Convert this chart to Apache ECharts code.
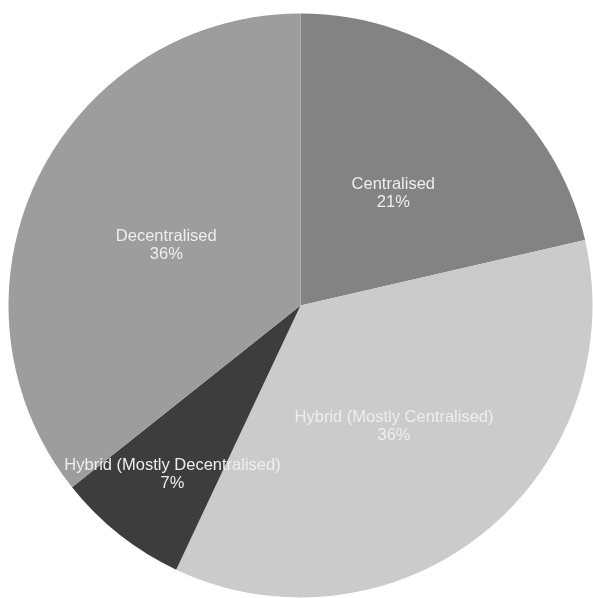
<!DOCTYPE html>
<html>
<head>
<meta charset="utf-8">
<script src="https://cdn.jsdelivr.net/npm/echarts@6/dist/echarts.min.js"></script>
<style>
html,body{margin:0;padding:0;background:#fff;}
#chart{width:593px;height:598px;}
</style>
</head>
<body>
<div id="chart"></div>
<script>
const categories = ['Centralised', 'Hybrid (Mostly Centralised)', 'Hybrid (Mostly Decentralised)', 'Decentralised'];
const values = [21.4, 35.6, 7.3, 35.7];
const colors = ['#838383', '#cbcbcb', '#3d3d3d', '#9d9d9d'];

const cx = 300.5, cy = 305.5, R = 292;
const chart = echarts.init(document.getElementById('chart'), null, {renderer: 'canvas'});
chart.setOption({
  animation: false,
  backgroundColor: '#ffffff',
  series: [{
    type: 'pie',
    center: [cx, cy],
    radius: [0, R],
    startAngle: 90,
    clockwise: true,
    avoidLabelOverlap: false,
    data: categories.map((c, i) => ({name: c, value: values[i], itemStyle: {color: colors[i]}})),
    itemStyle: {borderWidth: 0},
    label: {
      show: true,
      position: 'inside',
      color: '#eeeeee',
      fontFamily: 'Liberation Sans, Arial, sans-serif',
      fontSize: 16.5,
      lineHeight: 18,
      align: 'center',
      offset: [0, 5],
      formatter: p => p.name + '\n' + Math.round(p.percent) + '%'
    },
    labelLine: {show: false},
    labelLayout: function (params) {
      if (params.dataIndex !== 2) return {};
      const r = params.labelRect;
      const lx = r.x + r.width / 2, ly = r.y + r.height / 2;
      const k = 1.385;
      return {x: cx + (lx - cx) * k, y: cy + (ly - cy) * k, align: 'center', verticalAlign: 'middle'};
    }
  }]
});
</script>
</body>
</html>
